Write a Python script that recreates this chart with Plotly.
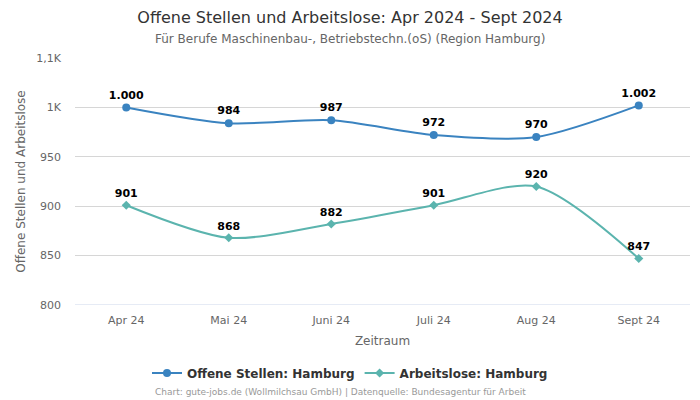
import plotly.graph_objects as go

months = ["Apr 24", "Mai 24", "Juni 24", "Juli 24", "Aug 24", "Sept 24"]
offene = [1000, 984, 987, 972, 970, 1002]
arbeitslose = [901, 868, 882, 901, 920, 847]
ytick_vals = [800, 850, 900, 950, 1000, 1050]
ytick_text = ["800", "850", "900", "950", "1K", "1,1K"]

def fmt(v):
    return f"{v:,}".replace(",", ".")

FONT = "DejaVu Sans, Verdana, sans-serif"
blue = "#3a83c0"
teal = "#5bb4ae"

PLOT_H = 400 - 58 - 95

fig = go.Figure()
fig.add_trace(go.Scatter(
    x=months, y=offene, name="Offene Stellen: Hamburg",
    mode="lines+markers+text", line=dict(color=blue, width=2, shape="spline", smoothing=0.8),
    marker=dict(symbol="circle", size=8, color=blue),
    text=[fmt(v) for v in offene], textposition="top center",
    textfont=dict(family=FONT, size=11, color="#000000", weight="bold"),
    cliponaxis=False,
))
fig.add_trace(go.Scatter(
    x=months, y=arbeitslose, name="Arbeitslose: Hamburg",
    mode="lines+markers+text", line=dict(color=teal, width=2, shape="spline", smoothing=0.8),
    marker=dict(symbol="diamond", size=7, color=teal),
    text=[fmt(v) for v in arbeitslose], textposition="top center",
    textfont=dict(family=FONT, size=11, color="#000000", weight="bold"),
    cliponaxis=False,
))

fig.update_layout(
    width=700, height=400,
    margin=dict(l=75, r=10, t=58, b=95, autoexpand=False),
    paper_bgcolor="white", plot_bgcolor="white",
    font=dict(family=FONT, color="#666666", size=11),
    title=dict(text="Offene Stellen und Arbeitslose: Apr 2024 - Sept 2024",
               x=0.5, xanchor="center", xref="container", y=1 - 17/400, yanchor="middle",
               font=dict(size=16, color="#333333", family=FONT)),
    annotations=[
        dict(text="Für Berufe Maschinenbau-, Betriebstechn.(oS) (Region Hamburg)",
             x=(350 - 75) / 615, xref="paper", y=(400 - 39 - 95) / PLOT_H, yref="paper", yanchor="middle",
             showarrow=False, font=dict(size=12, color="#666666", family=FONT)),
        dict(text="Chart: gute-jobs.de (Wollmilchsau GmbH) | Datenquelle: Bundesagentur für Arbeit",
             x=(340 - 75) / 615, xref="paper", y=-(392 - 305) / PLOT_H, yref="paper", yanchor="middle",
             showarrow=False, font=dict(size=9, color="#999999", family=FONT)),
    ],
    showlegend=True,
    legend=dict(orientation="h", x=(350 - 75) / 615, xanchor="center", y=-(373 - 305) / PLOT_H, yanchor="middle",
                font=dict(size=12, color="#333333", family=FONT, weight="bold"),
                itemwidth=30, traceorder="normal"),
    xaxis=dict(type="category", range=[-0.5, 5.5], showgrid=False, automargin=False,
               showline=False, ticks="", tickfont=dict(size=11, color="#666666"),
               ticklabelstandoff=7,
               title=dict(text="Zeitraum", font=dict(size=12, color="#666666"), standoff=10)),
    yaxis=dict(range=[800, 1050], tickvals=ytick_vals, ticktext=ytick_text, automargin=False,
               showgrid=True, gridcolor="#d6d6d6", gridwidth=1, zeroline=False,
               showline=False, ticks="", tickfont=dict(size=11, color="#666666"),
               ticklabelstandoff=13,
               title=dict(text="Offene Stellen und Arbeitslose", font=dict(size=12, color="#666666"), standoff=8)),
)
fig.add_shape(type="line", xref="paper", yref="y", x0=0, x1=1, y0=800, y1=800,
              line=dict(color="#ccd6eb", width=1))

fig.write_html("out.html", config={"displayModeBar": False},
               post_script="document.body.style.margin='0';document.body.style.padding='0';")
